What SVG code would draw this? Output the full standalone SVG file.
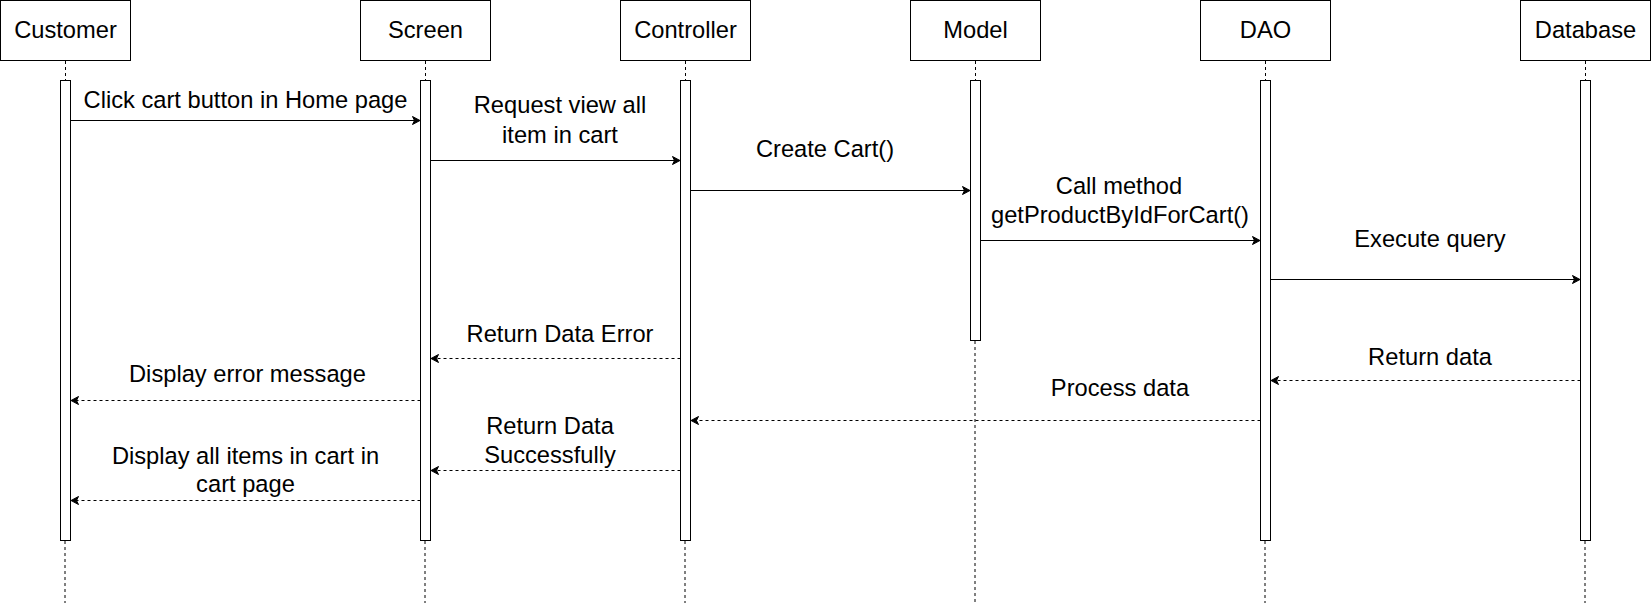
<svg xmlns="http://www.w3.org/2000/svg" width="1651" height="603" viewBox="0 0 1651 603">
<style>
text{font-family:"Liberation Sans",Arial,Helvetica,sans-serif;font-size:23.7px;fill:#000;text-anchor:middle}
.box{fill:#fff;stroke:#000;stroke-width:1}
.act{fill:#fff;stroke:#000;stroke-width:1}
.life{stroke:#000;stroke-width:1;stroke-dasharray:3 3;fill:none}
.msg{stroke:#000;stroke-width:1;fill:none;marker-end:url(#arr)}
.ret{stroke:#000;stroke-width:1;fill:none;stroke-dasharray:3 3;marker-end:url(#arr)}
</style>
<defs>
<marker id="arr" markerUnits="userSpaceOnUse" viewBox="-6 -5 10 10" refX="0" refY="0" markerWidth="10" markerHeight="10" orient="auto">
<path d="M3,0 L-4.5,-4 L-2.5,0 L-4.5,4 Z" fill="#000" stroke="#000" stroke-width="1" stroke-linejoin="miter"/>
</marker>
</defs>
<rect width="1651" height="603" fill="#fff"/>
<g id="lifelines">
<path class="life" d="M65.5,61 V80 M65,541 V603"/>
<path class="life" d="M425.5,61 V80 M425,541 V603"/>
<path class="life" d="M685.5,61 V80 M685,541 V603"/>
<path class="life" d="M975.5,61 V80 M975,341 V603"/>
<path class="life" d="M1265.5,61 V80 M1265,541 V603"/>
<path class="life" d="M1585.5,61 V80 M1585,541 V603"/>
</g>
<g id="customer"><rect class="box" x="0.5" y="0.5" width="130" height="60"/><text x="65.5" y="37.7">Customer</text><rect class="act" x="60.5" y="80.5" width="10" height="460"/></g>
<g id="screen"><rect class="box" x="360.5" y="0.5" width="130" height="60"/><text x="425.5" y="37.7">Screen</text><rect class="act" x="420.5" y="80.5" width="10" height="460"/></g>
<g id="controller"><rect class="box" x="620.5" y="0.5" width="130" height="60"/><text x="685.5" y="37.7">Controller</text><rect class="act" x="680.5" y="80.5" width="10" height="460"/></g>
<g id="model"><rect class="box" x="910.5" y="0.5" width="130" height="60"/><text x="975.5" y="37.7">Model</text><rect class="act" x="970.5" y="80.5" width="10" height="260"/></g>
<g id="dao"><rect class="box" x="1200.5" y="0.5" width="130" height="60"/><text x="1265.5" y="37.7">DAO</text><rect class="act" x="1260.5" y="80.5" width="10" height="460"/></g>
<g id="database"><rect class="box" x="1520.5" y="0.5" width="130" height="60"/><text x="1585.5" y="37.7">Database</text><rect class="act" x="1580.5" y="80.5" width="10" height="460"/></g>
<g id="connectors">
<line class="msg" x1="70.5" y1="120.5" x2="417" y2="120.5"/>
<line class="msg" x1="430.5" y1="160.5" x2="677" y2="160.5"/>
<line class="msg" x1="690.5" y1="190.5" x2="967" y2="190.5"/>
<line class="msg" x1="980.5" y1="240.5" x2="1257" y2="240.5"/>
<line class="msg" x1="1270.5" y1="279.5" x2="1577" y2="279.5"/>
<line class="ret" x1="680.5" y1="358.5" x2="434" y2="358.5"/>
<line class="ret" x1="1580.5" y1="380.5" x2="1274" y2="380.5"/>
<line class="ret" x1="420.5" y1="400.5" x2="74" y2="400.5"/>
<line class="ret" x1="1260.5" y1="420.5" x2="694" y2="420.5"/>
<line class="ret" x1="680.5" y1="470.5" x2="434" y2="470.5"/>
<line class="ret" x1="420.5" y1="500.5" x2="74" y2="500.5"/>
<text x="245.5" y="107.7">Click cart button in Home page</text>
<text x="560" y="113.3">Request view all</text>
<text x="560" y="142.7">item in cart</text>
<text x="825" y="157.3">Create Cart()</text>
<text x="1119" y="194">Call method</text>
<text x="1120" y="223.3">getProductByIdForCart()</text>
<text x="1430" y="247.3">Execute query</text>
<text x="560" y="341.7">Return Data Error</text>
<text x="1430" y="365">Return data</text>
<text x="247.5" y="382">Display error message</text>
<text x="1120" y="396">Process data</text>
<text x="550" y="434.3">Return Data</text>
<text x="550" y="462.7">Successfully</text>
<text x="245.5" y="464">Display all items in cart in</text>
<text x="245.5" y="492.3">cart page</text>
</g>
</svg>
